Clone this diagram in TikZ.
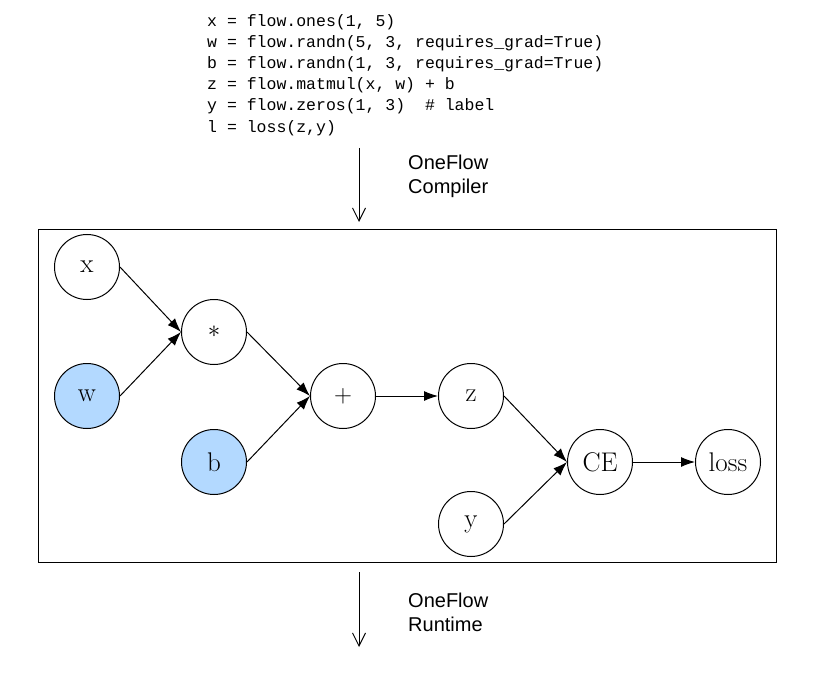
\documentclass[tikz,border=0pt]{standalone}
\usepackage{fontspec}
\setsansfont{Liberation Sans}
\setmonofont{Liberation Mono}
\usepackage{xcolor}
\usetikzlibrary{arrows.meta,positioning}
\definecolor{paramblue}{HTML}{B3D9FF}

\begin{document}
\begin{tikzpicture}[
    x=1pt, y=-1pt,
    font=\fontsize{27}{30}\selectfont,
    node distance=64.5pt and 128.5pt,
    op/.style={draw, circle, minimum size=65pt, inner sep=0pt, line width=1pt, on grid},
    param/.style={op, fill=paramblue},
    edge/.style={-{Latex[length=14pt,width=10pt]}, line width=1pt},
    stage/.style={-{Straight Barb[length=13pt,width=13pt]}, line width=1pt},
    note/.style={font=\sffamily\fontsize{20}{24}\selectfont, align=left, anchor=north west, inner sep=0pt}
]
\useasboundingbox (0,0) rectangle (821,676);

% Source program
\node[anchor=north west, inner sep=0pt, align=left, font=\ttfamily\fontsize{16.5}{21.2}\selectfont] (code) at (207,14)
  {x = flow.ones(1, 5)\\
   w = flow.randn(5, 3, requires\_grad=True)\\
   b = flow.randn(1, 3, requires\_grad=True)\\
   z = flow.matmul(x, w) + b\\
   y = flow.zeros(1, 3)~~\# label\\
   l = loss(z,y)};

\coordinate (compin) at (359,148);
\coordinate (compout) at (359,222);
\draw[stage] (compin) -- (compout);
\node[note] (compiler) at (408,155) {OneFlow\\Compiler};

% Graph
\node[draw, line width=1pt, minimum width=738pt, minimum height=332pt, inner sep=0pt] (frame) at (407,396) {};

\node[op] (x) at (87,267) {x};
\node[param, below=129pt of x] (w) {w};
\node[op, below right=65pt and 127pt of x] (mul) {$*$};
\node[param, below=130pt of mul] (b) {b};
\node[op, below right=64pt and 129pt of mul] (plus) {$+$};
\node[op, right=128pt of plus] (z) {z};
\node[op, below=128pt of z] (y) {y};
\node[op, below right=66pt and 129pt of z] (ce) {CE};
\node[op, right=128pt of ce] (loss) {loss};

\draw[edge] (x.east) -- (mul.west);
\draw[edge] (w.east) -- (mul.west);
\draw[edge] (mul.east) -- (plus.west);
\draw[edge] (b.east) -- (plus.west);
\draw[edge] (plus.east) -- (z.west);
\draw[edge] (z.east) -- (ce.west);
\draw[edge] (y.east) -- (ce.west);
\draw[edge] (ce.east) -- (loss.west);

\coordinate (runin) at (359,572);
\coordinate (runout) at (359,647);
\draw[stage] (runin) -- (runout);
\node[note] (runtime) at (408,593) {OneFlow\\Runtime};

\end{tikzpicture}
\end{document}
